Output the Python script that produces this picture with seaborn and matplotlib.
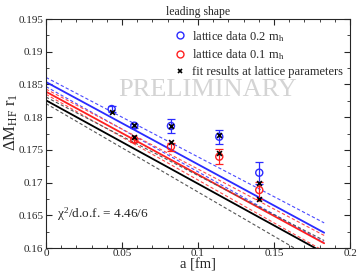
import numpy as np
import pandas as pd
import matplotlib
matplotlib.use("Agg")
import matplotlib.pyplot as plt
import seaborn as sns
from matplotlib.lines import Line2D
from matplotlib.ticker import MultipleLocator

# ---- data ----
a_blue = [0.0432, 0.0581, 0.0822, 0.1140, 0.1403]
y_blue = [0.18124, 0.17869, 0.17865, 0.17701, 0.17151]
e_blue = [0.0004, 0.0003, 0.0011, 0.0011, 0.0017]

a_red = [0.0581, 0.0822, 0.1140, 0.1403]
y_red = [0.17655, 0.17548, 0.17396, 0.16886]
e_red = [0.0003, 0.0006, 0.0011, 0.0013]

a_fit = [0.0432, 0.0581, 0.0581, 0.0822, 0.0822, 0.1140, 0.1140, 0.1403, 0.1403]
y_fit = [0.18083, 0.17875, 0.17690, 0.17860, 0.17625, 0.17727, 0.17457, 0.16989, 0.16749]

# fit curves: value at a=0 and at a=0.183, with band half-widths
curve_a = [0.0, 0.183]
curve_names = ["blue", "red", "black"]
curve_center = {"blue": [0.18537, 0.16234], "red": [0.18389, 0.16072], "black": [0.18257, 0.15924]}
curve_err = {"blue": [0.0007, 0.0015], "red": [0.0004, 0.0012], "black": [0.0005, 0.0019]}

xticks = [0, 0.05, 0.1, 0.15, 0.2]
xticklabels = ["0", "0.05", "0.1", "0.15", "0.2"]
yticks = [0.16, 0.165, 0.17, 0.175, 0.18, 0.185, 0.19, 0.195]
yticklabels = ["0.16", "0.165", "0.17", "0.175", "0.18", "0.185", "0.19", "0.195"]

# ---- style ----
sns.set_style("ticks")
plt.rcParams["font.family"] = ["Liberation Serif", "DejaVu Serif"]
plt.rcParams["mathtext.fontset"] = "custom"
plt.rcParams["mathtext.rm"] = "Liberation Serif"
plt.rcParams["mathtext.it"] = "Liberation Serif"

fig = plt.figure(figsize=(3.57, 2.73), dpi=100)
ax = fig.add_axes([46/357, 1-248/273, 304/357, 229/273])

colors = {"blue": "#2b2bff", "red": "#ff2020", "black": "#000000"}
dcolors = {"blue": "#4a4aff", "red": "#ff4a4a", "black": "#555555"}

rows = []
for name in curve_names:
    c = np.array(curve_center[name]); e = np.array(curve_err[name])
    for part, vals in (("c", c), ("u", c + e), ("l", c - e)):
        for av, v in zip(curve_a, vals):
            rows.append({"a": av, "y": v, "curve": name + part})
df_lines = pd.DataFrame(rows)

for name in curve_names:
    sub = df_lines[df_lines.curve == name + "c"]
    sns.lineplot(data=sub, x="a", y="y", color=colors[name], lw=1.3, ax=ax, estimator=None)
    for part in ("u", "l"):
        sub = df_lines[df_lines.curve == name + part]
        sns.lineplot(data=sub, x="a", y="y", color=dcolors[name], lw=0.8,
                     ax=ax, estimator=None, linestyle=(0, (3, 2)))

ax.errorbar(a_blue, y_blue, yerr=e_blue, fmt="none", ecolor=colors["blue"], elinewidth=0.9, capsize=3, capthick=0.9)
ax.errorbar(a_red, y_red, yerr=e_red, fmt="none", ecolor=colors["red"], elinewidth=0.9, capsize=3, capthick=0.9)
sns.scatterplot(x=a_blue, y=y_blue, ax=ax, marker="o", s=26, facecolors="none",
                edgecolor=colors["blue"], linewidth=1.0, zorder=5)
sns.scatterplot(x=a_red, y=y_red, ax=ax, marker="o", s=26, facecolors="none",
                edgecolor=colors["red"], linewidth=1.0, zorder=5)
sns.scatterplot(x=a_fit, y=y_fit, ax=ax, marker="x", s=12, color="black", linewidth=1.2, zorder=6)

ax.set_xlim(0, 0.2)
ax.set_ylim(0.16, 0.195)
ax.set_xticks(xticks)
ax.set_xticklabels(xticklabels)
ax.set_yticks(yticks)
ax.set_yticklabels(yticklabels)
ax.xaxis.set_minor_locator(MultipleLocator(0.01))
ax.yaxis.set_minor_locator(MultipleLocator(0.0025))
ax.tick_params(which="both", direction="in", top=True, right=True, labelsize=8, pad=2)
ax.tick_params(axis="x", which="major", pad=1)
ax.tick_params(which="major", length=4, width=0.8)
ax.tick_params(which="minor", length=2, width=0.6)
for s in ax.spines.values():
    s.set_visible(True)
    s.set_linewidth(0.8)

ax.set_xlabel("a [fm]", fontsize=10.5)
ax.set_ylabel(r"$\Delta$M$_{\rm HF}$ r$_1$", fontsize=12)
ax.xaxis.set_label_coords(0.5, -0.046, transform=ax.transAxes)
ax.yaxis.set_label_coords(-0.115, 0.55, transform=ax.transAxes)
ax.xaxis.label.set_va("top")
ax.yaxis.label.set_va("center")
ax.set_title("leading shape", fontsize=8.5, pad=3)

ax.text(0.1066, 0.1842, "PRELIMINARY", fontsize=19, color="#d4d4d4", ha="center", va="center", zorder=0)
ax.text(0.0072, 0.1651, r"$\chi^2$/d.o.f. = 4.46/6", fontsize=9.5, ha="left", va="center")

handles = [
    Line2D([], [], marker="o", ls="none", mfc="none", mec=colors["blue"], ms=5, mew=1.0),
    Line2D([], [], marker="o", ls="none", mfc="none", mec=colors["red"], ms=5, mew=1.0),
    Line2D([], [], marker="x", ls="none", color="black", ms=3.5, mew=1.2),
]
labels = [r"lattice data 0.2 m$_{\rm h}$", r"lattice data 0.1 m$_{\rm h}$", "fit results at lattice parameters"]
ax.legend(handles, labels, loc="upper right", frameon=False, fontsize=9,
          handlelength=0.8, handletextpad=0.5, labelspacing=0.3, borderaxespad=0.2,
          bbox_to_anchor=(1.0, 0.99))

fig.savefig("out.png", dpi=100)
